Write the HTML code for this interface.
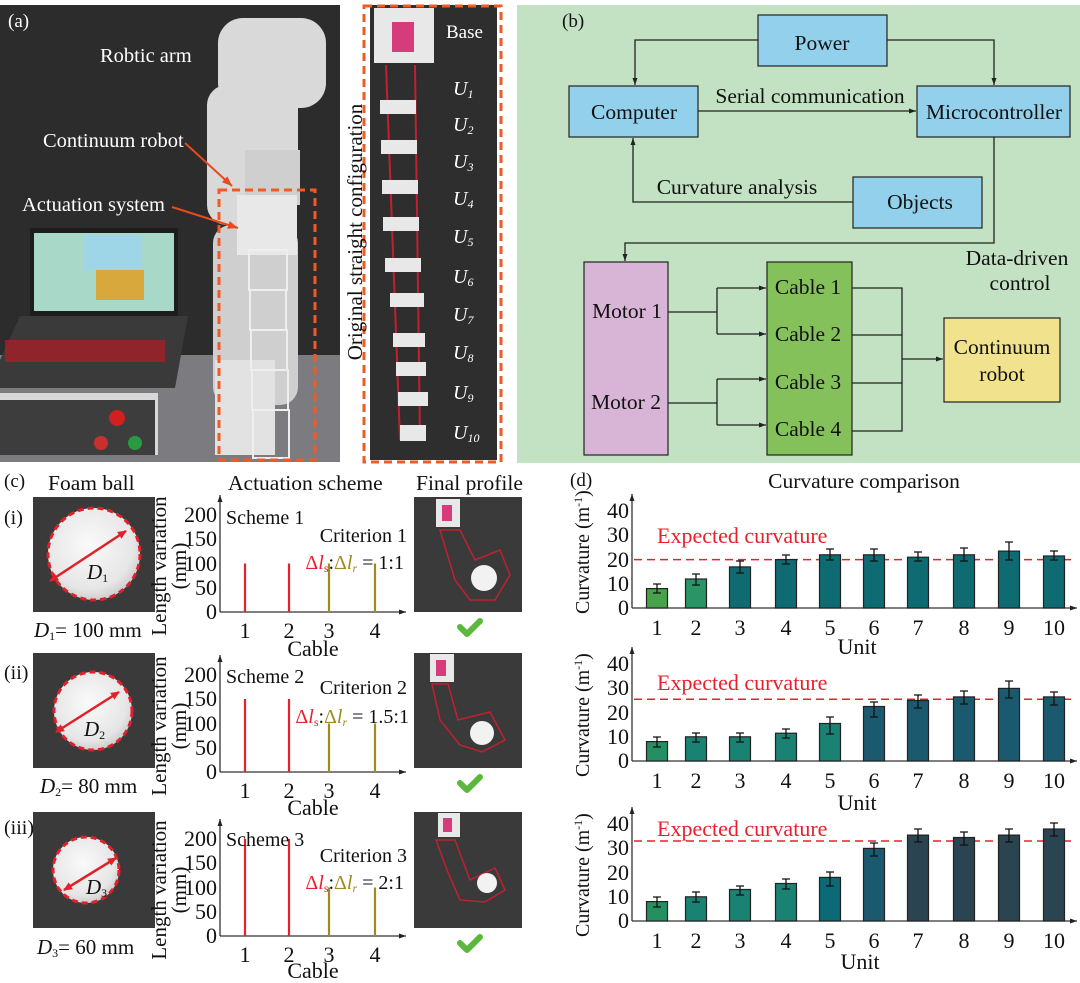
<!DOCTYPE html>
<html><head><meta charset="utf-8"><style>
html,body{margin:0;padding:0;background:#fff}
svg{display:block}
text{font-family:"Liberation Serif",serif;fill:#111}
text.w,.w text,.w tspan{fill:#fff}
</style></head><body>
<svg width="1080" height="983" viewBox="0 0 1080 983" xmlns="http://www.w3.org/2000/svg">
<defs>
<marker id="ar" markerWidth="8" markerHeight="8" refX="7" refY="4" orient="auto" markerUnits="userSpaceOnUse"><path d="M0,1.5 L7,4 L0,6.5 z" fill="#222"/></marker>
<marker id="ao" markerWidth="12" markerHeight="10" refX="10" refY="5" orient="auto" markerUnits="userSpaceOnUse"><path d="M0,1 L10,5 L0,9 z" fill="#e8491d"/></marker>
<marker id="ar2" markerWidth="10" markerHeight="10" refX="8" refY="5" orient="auto-start-reverse" markerUnits="userSpaceOnUse"><path d="M0,1 L9,5 L0,9 z" fill="#e0202a"/></marker>
<radialGradient id="ball" cx="45%" cy="40%" r="60%"><stop offset="0" stop-color="#fafafa"/><stop offset="0.8" stop-color="#e6e6e6"/><stop offset="1" stop-color="#cfcfcf"/></radialGradient>
</defs>

<!-- Panel (a) left photo -->
<rect x="0" y="5" width="340" height="457" fill="#2c2c2c"/>
<rect x="0" y="355" width="340" height="107" fill="#7c7c80"/>
<g fill="#d9d9d9">
<rect x="218" y="18" width="108" height="90" rx="25"/>
<rect x="207" y="85" width="50" height="140" rx="20"/>
<rect x="243" y="80" width="55" height="110" rx="22"/>
<rect x="245" y="150" width="55" height="55" fill="#cfcfcf"/>
<rect x="213" y="225" width="85" height="180" rx="18" fill="#cfcfcf"/>
<rect x="215" y="360" width="60" height="95" fill="#e2e2e2"/>
</g>
<rect x="237" y="195" width="60" height="60" fill="#e8e8e8"/>
<g stroke="#eee" stroke-width="2" fill="none">
<rect x="249" y="250" width="38" height="40"/><rect x="250" y="290" width="36" height="40"/><rect x="251" y="330" width="36" height="40"/><rect x="252" y="370" width="36" height="40"/><rect x="253" y="410" width="36" height="48"/>
</g>
<rect x="30" y="228" width="148" height="88" fill="#1d1d1d"/>
<rect x="34" y="233" width="140" height="78" fill="#a8d8c8"/>
<rect x="84" y="235" width="58" height="35" fill="#9ed6e8"/>
<rect x="96" y="270" width="48" height="30" fill="#d9a83c"/>
<polygon points="20,316 188,316 175,388 0,388 0,360" fill="#3a3a3a"/>
<rect x="5" y="340" width="160" height="22" fill="#a52028" opacity="0.8"/>
<rect x="0" y="393" width="158" height="62" fill="#d8d8d8"/>
<rect x="0" y="400" width="155" height="55" fill="#3d3d3d"/>
<circle cx="117" cy="418" r="8" fill="#d02020"/>
<circle cx="101" cy="443" r="7" fill="#c83030"/>
<circle cx="135" cy="443" r="7" fill="#2a9a40"/>
<rect x="219" y="190" width="96" height="270" fill="none" stroke="#f05a24" stroke-width="3" stroke-dasharray="8,5"/>
<text class="w" x="8" y="27" font-size="19">(a)</text>
<text class="w" x="100" y="62" font-size="20.5">Robtic arm</text>
<text class="w" x="43" y="147" font-size="20.5">Continuum robot</text>
<text class="w" x="22" y="211" font-size="20.5">Actuation system</text>
<line x1="185" y1="143" x2="232" y2="186" stroke="#e8491d" stroke-width="2" marker-end="url(#ao)"/>
<line x1="172" y1="207" x2="238" y2="228" stroke="#e8491d" stroke-width="2" marker-end="url(#ao)"/>

<!-- middle photo -->
<rect x="370" y="5" width="127" height="455" fill="#2e2e2e"/>
<rect x="374" y="8" width="60" height="55" fill="#e8e8e8"/>
<rect x="392" y="22" width="22" height="30" fill="#d63c7a"/>
<line x1="386" y1="65" x2="400" y2="440" stroke="#c22030" stroke-width="2"/>
<line x1="415" y1="65" x2="420" y2="440" stroke="#c22030" stroke-width="2"/>
<g fill="#e8e8e8">
<rect x="380" y="100" width="36" height="14"/><rect x="381" y="140" width="36" height="14"/><rect x="382" y="180" width="36" height="14"/><rect x="383" y="217" width="36" height="14"/><rect x="385" y="258" width="36" height="14"/><rect x="390" y="293" width="34" height="14"/><rect x="393" y="333" width="32" height="14"/><rect x="396" y="362" width="30" height="14"/><rect x="398" y="392" width="30" height="14"/><rect x="400" y="425" width="26" height="16"/>
</g>
<text class="w" x="446" y="38" font-size="19">Base</text>
<g class="w" font-size="20" font-style="italic">
<text x="453" y="95">U<tspan font-size="12" dy="3">1</tspan></text>
<text x="453" y="131">U<tspan font-size="12" dy="3">2</tspan></text>
<text x="453" y="168">U<tspan font-size="12" dy="3">3</tspan></text>
<text x="453" y="205">U<tspan font-size="12" dy="3">4</tspan></text>
<text x="453" y="243">U<tspan font-size="12" dy="3">5</tspan></text>
<text x="453" y="283">U<tspan font-size="12" dy="3">6</tspan></text>
<text x="453" y="321">U<tspan font-size="12" dy="3">7</tspan></text>
<text x="453" y="359">U<tspan font-size="12" dy="3">8</tspan></text>
<text x="453" y="399">U<tspan font-size="12" dy="3">9</tspan></text>
<text x="453" y="439">U<tspan font-size="12" dy="3">10</tspan></text>
</g>
<rect x="364" y="6" width="137" height="456" fill="none" stroke="#f05a24" stroke-width="3" stroke-dasharray="8,5"/>
<text transform="translate(362,232) rotate(-90)" text-anchor="middle" font-size="21">Original straight configuration</text>

<!-- Panel (b) -->
<rect x="517" y="5" width="563" height="458" fill="#c3e1c3"/>
<text x="562" y="27" font-size="19">(b)</text>
<g stroke="#222" stroke-width="1.3" fill="none">
<polyline points="758,40 635,40 635,85" marker-end="url(#ar)"/>
<polyline points="887,40 994,40 994,85" marker-end="url(#ar)"/>
<line x1="698" y1="111" x2="916" y2="111" marker-end="url(#ar)"/>
<polyline points="853,202 633,202 633,138" marker-end="url(#ar)"/>
<polyline points="994,137 994,243 625,243 625,261" marker-end="url(#ar)"/>
<polyline points="668,312 717,312"/>
<polyline points="717,288 717,334"/>
<line x1="717" y1="288" x2="766" y2="288" marker-end="url(#ar)"/>
<line x1="717" y1="334" x2="766" y2="334" marker-end="url(#ar)"/>
<polyline points="668,403 717,403"/>
<polyline points="717,379 717,425"/>
<line x1="717" y1="379" x2="766" y2="379" marker-end="url(#ar)"/>
<line x1="717" y1="425" x2="766" y2="425" marker-end="url(#ar)"/>
<polyline points="852,288 902,288 902,431 852,431"/>
<line x1="852" y1="335" x2="902" y2="335"/>
<line x1="852" y1="383" x2="902" y2="383"/>
<line x1="902" y1="359" x2="943" y2="359" marker-end="url(#ar)"/>
</g>
<g stroke="#222" stroke-width="1.2">
<rect x="758" y="15" width="129" height="51" fill="#92d0ec"/>
<rect x="569" y="86" width="129" height="51" fill="#92d0ec"/>
<rect x="917" y="86" width="153" height="51" fill="#92d0ec"/>
<rect x="853" y="177" width="129" height="51" fill="#92d0ec"/>
<rect x="584" y="262" width="84" height="193" fill="#d8b4d6"/>
<rect x="767" y="262" width="85" height="193" fill="#85c15a"/>
<rect x="944" y="318" width="116" height="84" fill="#f1e28e"/>
</g>
<g font-size="21.5" text-anchor="middle">
<text x="822" y="50">Power</text>
<text x="634" y="119">Computer</text>
<text x="994" y="119">Microcontroller</text>
<text x="810" y="103">Serial communication</text>
<text x="737" y="194">Curvature analysis</text>
<text x="920" y="209">Objects</text>
<text x="1017" y="265">Data-driven</text>
<text x="1020" y="290">control</text>
<text x="627" y="318">Motor 1</text>
<text x="626" y="409">Motor 2</text>
<text x="808" y="294">Cable 1</text>
<text x="808" y="341">Cable 2</text>
<text x="808" y="389">Cable 3</text>
<text x="808" y="436">Cable 4</text>
<text x="1002" y="354">Continuum</text>
<text x="1002" y="381">robot</text>
</g>

<!-- Panel (c) headers -->
<text x="4" y="487" font-size="19">(c)</text>
<text x="48" y="490" font-size="21.5">Foam ball</text>
<text x="228" y="490" font-size="21.5">Actuation scheme</text>
<text x="416" y="490" font-size="21.5">Final profile</text>
<text x="4" y="524" font-size="20">(i)</text>
<text x="4" y="679" font-size="20">(ii)</text>
<text x="4" y="834" font-size="20">(iii)</text>

<!-- foam ball photos -->
<rect x="33" y="497" width="122" height="115" fill="#3a3a3a"/>
<circle cx="94" cy="554" r="46" fill="url(#ball)" stroke="#e0202a" stroke-width="3" stroke-dasharray="6,4"/>
<line x1="50" y1="581" x2="126" y2="531" stroke="#e0202a" stroke-width="2.5" marker-start="url(#ar2)" marker-end="url(#ar2)"/>
<text x="87" y="579" font-size="21" font-style="italic">D<tspan font-size="12" dy="3" font-style="normal">1</tspan></text>
<text x="34" y="637" font-size="21"><tspan font-style="italic">D</tspan><tspan font-size="12" dy="3">1</tspan><tspan dy="-3">= 100 mm</tspan></text>

<rect x="33" y="653" width="122" height="115" fill="#3a3a3a"/>
<circle cx="93" cy="711" r="39" fill="url(#ball)" stroke="#e0202a" stroke-width="3" stroke-dasharray="6,4"/>
<line x1="56" y1="732" x2="119" y2="692" stroke="#e0202a" stroke-width="2.5" marker-start="url(#ar2)" marker-end="url(#ar2)"/>
<text x="84" y="736" font-size="21" font-style="italic">D<tspan font-size="12" dy="3" font-style="normal">2</tspan></text>
<text x="40" y="793" font-size="21"><tspan font-style="italic">D</tspan><tspan font-size="12" dy="3">2</tspan><tspan dy="-3">= 80 mm</tspan></text>

<rect x="33" y="812" width="122" height="116" fill="#3a3a3a"/>
<circle cx="86" cy="870" r="33" fill="url(#ball)" stroke="#e0202a" stroke-width="3" stroke-dasharray="6,4"/>
<line x1="64" y1="890" x2="116" y2="858" stroke="#e0202a" stroke-width="2.5" marker-start="url(#ar2)" marker-end="url(#ar2)"/>
<text x="86" y="894" font-size="21" font-style="italic">D<tspan font-size="12" dy="3" font-style="normal">3</tspan></text>
<text x="37" y="954" font-size="21"><tspan font-style="italic">D</tspan><tspan font-size="12" dy="3">3</tspan><tspan dy="-3">= 60 mm</tspan></text>

<!-- final profile photos -->
<g>
<rect x="414" y="497" width="108" height="115" fill="#3a3a3a"/>
<rect x="436" y="499" width="24" height="28" fill="#e8e8e8"/><rect x="442" y="505" width="10" height="16" fill="#d63c7a"/>
<polygon points="440,530 460,530 475,560 500,550 510,575 495,600 470,600 455,580" fill="none" stroke="#c22030" stroke-width="1.5"/>
<circle cx="484" cy="578" r="13" fill="#f2f2f2"/>
<rect x="414" y="653" width="108" height="115" fill="#3a3a3a"/>
<rect x="430" y="654" width="24" height="28" fill="#e8e8e8"/><rect x="436" y="660" width="10" height="16" fill="#d63c7a"/>
<polygon points="432,684 448,684 458,720 490,712 505,740 482,752 460,745 440,720" fill="none" stroke="#c22030" stroke-width="1.5"/>
<circle cx="482" cy="733" r="12" fill="#f2f2f2"/>
<rect x="414" y="812" width="108" height="116" fill="#3a3a3a"/>
<rect x="438" y="813" width="22" height="24" fill="#e8e8e8"/><rect x="443" y="818" width="9" height="14" fill="#d63c7a"/>
<polygon points="436,840 455,840 470,880 495,868 505,890 485,902 460,900 447,870" fill="none" stroke="#c22030" stroke-width="1.5"/>
<circle cx="487" cy="883" r="10" fill="#f2f2f2"/>
</g>
<g stroke="#5cb83c" stroke-width="6" fill="none" stroke-linecap="round" stroke-linejoin="round">
<polyline points="460,627 467,634 480,621"/>
<polyline points="460,783 467,790 480,777"/>
<polyline points="460,943 467,950 480,937"/>
</g>

<!-- Actuation charts -->
<g stroke="#333" stroke-width="1.3" fill="none">
<line x1="220" y1="612" x2="220" y2="495" marker-end="url(#ar)"/>
<line x1="220" y1="612" x2="406" y2="612" marker-end="url(#ar)"/>
<line x1="220" y1="772" x2="220" y2="655" marker-end="url(#ar)"/>
<line x1="220" y1="772" x2="406" y2="772" marker-end="url(#ar)"/>
<line x1="220" y1="936" x2="220" y2="819" marker-end="url(#ar)"/>
<line x1="220" y1="936" x2="406" y2="936" marker-end="url(#ar)"/>
</g>
<g stroke-width="2.2">
<line x1="245" y1="612" x2="245" y2="563.5" stroke="#e8202e"/>
<line x1="289" y1="612" x2="289" y2="563.5" stroke="#e8202e"/>
<line x1="329" y1="612" x2="329" y2="563.5" stroke="#a08a20"/>
<line x1="375" y1="612" x2="375" y2="563.5" stroke="#a08a20"/>
<line x1="245" y1="772" x2="245" y2="699" stroke="#e8202e"/>
<line x1="289" y1="772" x2="289" y2="699" stroke="#e8202e"/>
<line x1="329" y1="772" x2="329" y2="723.5" stroke="#a08a20"/>
<line x1="375" y1="772" x2="375" y2="723.5" stroke="#a08a20"/>
<line x1="245" y1="936" x2="245" y2="839" stroke="#e8202e"/>
<line x1="289" y1="936" x2="289" y2="839" stroke="#e8202e"/>
<line x1="329" y1="936" x2="329" y2="887.5" stroke="#a08a20"/>
<line x1="375" y1="936" x2="375" y2="887.5" stroke="#a08a20"/>
</g>
<g font-size="22" text-anchor="end">
<text x="217" y="619">0</text><text x="217" y="595">50</text><text x="217" y="571">100</text><text x="217" y="546">150</text><text x="217" y="522">200</text>
<text x="217" y="779">0</text><text x="217" y="755">50</text><text x="217" y="731">100</text><text x="217" y="706">150</text><text x="217" y="682">200</text>
<text x="217" y="943">0</text><text x="217" y="919">50</text><text x="217" y="895">100</text><text x="217" y="870">150</text><text x="217" y="846">200</text>
</g>
<g font-size="22" text-anchor="middle">
<text x="245" y="638">1</text><text x="289" y="638">2</text><text x="329" y="638">3</text><text x="375" y="638">4</text>
<text x="313" y="656">Cable</text>
<text x="245" y="798">1</text><text x="289" y="798">2</text><text x="329" y="798">3</text><text x="375" y="798">4</text>
<text x="313" y="815">Cable</text>
<text x="245" y="962">1</text><text x="289" y="962">2</text><text x="329" y="962">3</text><text x="375" y="962">4</text>
<text x="313" y="978">Cable</text>
</g>
<g font-size="21">
<text transform="translate(166,566) rotate(-90)" text-anchor="middle">Length variation</text>
<text transform="translate(186,566) rotate(-90)" text-anchor="middle">(mm)</text>
<text transform="translate(166,726) rotate(-90)" text-anchor="middle">Length variation</text>
<text transform="translate(186,726) rotate(-90)" text-anchor="middle">(mm)</text>
<text transform="translate(166,890) rotate(-90)" text-anchor="middle">Length variation</text>
<text transform="translate(186,890) rotate(-90)" text-anchor="middle">(mm)</text>
</g>
<g font-size="20">
<text x="226" y="524">Scheme 1</text>
<text x="226" y="683">Scheme 2</text>
<text x="226" y="846">Scheme 3</text>
<text x="407" y="542" text-anchor="end">Criterion 1</text>
<text x="407" y="694" text-anchor="end">Criterion 2</text>
<text x="407" y="862" text-anchor="end">Criterion 3</text>
<text x="404" y="569" text-anchor="end"><tspan style="fill:#e8202e">Δ<tspan style="fill:#e8202e" font-style="italic">l</tspan><tspan style="fill:#e8202e" font-size="12" dy="3">s</tspan></tspan><tspan dy="-3">:</tspan><tspan style="fill:#a08a20">Δ<tspan style="fill:#a08a20" font-style="italic">l<tspan style="fill:#a08a20" font-size="12" dy="3">r</tspan></tspan></tspan><tspan dy="-3"> = 1:1</tspan></text>
<text x="409" y="723" text-anchor="end"><tspan style="fill:#e8202e">Δ<tspan style="fill:#e8202e" font-style="italic">l</tspan><tspan style="fill:#e8202e" font-size="12" dy="3">s</tspan></tspan><tspan dy="-3">:</tspan><tspan style="fill:#a08a20">Δ<tspan style="fill:#a08a20" font-style="italic">l<tspan style="fill:#a08a20" font-size="12" dy="3">r</tspan></tspan></tspan><tspan dy="-3"> = 1.5:1</tspan></text>
<text x="404" y="889" text-anchor="end"><tspan style="fill:#e8202e">Δ<tspan style="fill:#e8202e" font-style="italic">l</tspan><tspan style="fill:#e8202e" font-size="12" dy="3">s</tspan></tspan><tspan dy="-3">:</tspan><tspan style="fill:#a08a20">Δ<tspan style="fill:#a08a20" font-style="italic">l<tspan style="fill:#a08a20" font-size="12" dy="3">r</tspan></tspan></tspan><tspan dy="-3"> = 2:1</tspan></text>
</g>

<!-- Panel (d) -->
<text x="570" y="486" font-size="19">(d)</text>
<text x="864" y="488" font-size="21.5" text-anchor="middle">Curvature comparison</text>
<g stroke="#333" stroke-width="1.3" fill="none">
<line x1="632" y1="608" x2="632" y2="494" marker-end="url(#ar)"/>
<line x1="632" y1="608" x2="1077" y2="608" marker-end="url(#ar)"/>
<line x1="632" y1="761" x2="632" y2="647" marker-end="url(#ar)"/>
<line x1="632" y1="761" x2="1077" y2="761" marker-end="url(#ar)"/>
<line x1="632" y1="921" x2="632" y2="807" marker-end="url(#ar)"/>
<line x1="632" y1="921" x2="1077" y2="921" marker-end="url(#ar)"/>
</g>
<g stroke="#e8202e" stroke-width="1.5" stroke-dasharray="8,5">
<line x1="634" y1="559.6" x2="1075" y2="559.6"/>
<line x1="634" y1="699.3" x2="1075" y2="699.3"/>
<line x1="634" y1="841" x2="1075" y2="841"/>
</g>
<g font-size="22">
<text x="657" y="543" style="fill:#e8202e">Expected curvature</text>
<text x="657" y="690" style="fill:#e8202e">Expected curvature</text>
<text x="657" y="836" style="fill:#e8202e">Expected curvature</text>
</g>
<g stroke="#222" stroke-width="1.2">
<rect x="646.5" y="588.6" width="21" height="19.4" fill="#47a34a"/>
<rect x="685.5" y="579" width="21" height="29" fill="#2a9466"/>
<rect x="729.5" y="566.9" width="21" height="41.1" fill="#0e6b72"/>
<rect x="775.5" y="559.6" width="21" height="48.4" fill="#0e6b72"/>
<rect x="819.5" y="554.8" width="21" height="53.2" fill="#0e6b72"/>
<rect x="863.5" y="554.8" width="21" height="53.2" fill="#0e6b72"/>
<rect x="907.5" y="557.2" width="21" height="50.8" fill="#0e6b72"/>
<rect x="953.5" y="554.8" width="21" height="53.2" fill="#0e6b72"/>
<rect x="998.5" y="551.1" width="21" height="56.9" fill="#0e6b72"/>
<rect x="1043.5" y="556" width="21" height="52" fill="#0e6b72"/>
<rect x="646.5" y="741.6" width="21" height="19.4" fill="#238f63"/>
<rect x="685.5" y="736.8" width="21" height="24.2" fill="#1a8272"/>
<rect x="729.5" y="736.8" width="21" height="24.2" fill="#1a8272"/>
<rect x="775.5" y="733.2" width="21" height="27.8" fill="#1a8272"/>
<rect x="819.5" y="723.5" width="21" height="37.5" fill="#1a8272"/>
<rect x="863.5" y="706.5" width="21" height="54.5" fill="#1b5a6e"/>
<rect x="907.5" y="700.5" width="21" height="60.5" fill="#1b5a6e"/>
<rect x="953.5" y="696.9" width="21" height="64.1" fill="#1b5a6e"/>
<rect x="998.5" y="688.4" width="21" height="72.6" fill="#1b5a6e"/>
<rect x="1043.5" y="696.9" width="21" height="64.1" fill="#1b5a6e"/>
<rect x="646.5" y="901.6" width="21" height="19.4" fill="#239060"/>
<rect x="685.5" y="896.8" width="21" height="24.2" fill="#1a8272"/>
<rect x="729.5" y="889.5" width="21" height="31.5" fill="#1a8272"/>
<rect x="775.5" y="883.5" width="21" height="37.5" fill="#1a8272"/>
<rect x="819.5" y="877.4" width="21" height="43.6" fill="#0b6a75"/>
<rect x="863.5" y="848.4" width="21" height="72.6" fill="#1b5a6e"/>
<rect x="907.5" y="835.1" width="21" height="85.9" fill="#2b4452"/>
<rect x="953.5" y="837.5" width="21" height="83.5" fill="#2b4452"/>
<rect x="998.5" y="835.1" width="21" height="85.9" fill="#2b4452"/>
<rect x="1043.5" y="829" width="21" height="92" fill="#2b4452"/>
</g>
<g stroke="#111" stroke-width="1.3">
<path d="M657,584v9M653,584h8M653,593h8 M696,574v11M692,574h8M692,585h8 M740,561v12M736,561h8M736,573h8 M786,555v9M782,555h8M782,564h8 M830,549v11M826,549h8M826,560h8 M874,549v12M870,549h8M870,561h8 M918,552v9M914,552h8M914,561h8 M964,548v13M960,548h8M960,561h8 M1009,542v18M1005,542h8M1005,560h8 M1054,551v9M1050,551h8M1050,560h8"/>
<path d="M657,737v10M653,737h8M653,747h8 M696,733v9M692,733h8M692,742h8 M740,733v9M736,733h8M736,742h8 M786,729v9M782,729h8M782,738h8 M830,717v17M826,717h8M826,734h8 M874,702v15M870,702h8M870,717h8 M918,695v13M914,695h8M914,708h8 M964,691v13M960,691h8M960,704h8 M1009,681v17M1005,681h8M1005,698h8 M1054,692v13M1050,692h8M1050,705h8"/>
<path d="M657,897v10M653,897h8M653,907h8 M696,892v10M692,892h8M692,902h8 M740,886v9M736,886h8M736,895h8 M786,879v10M782,879h8M782,889h8 M830,872v14M826,872h8M826,886h8 M874,843v13M870,843h8M870,856h8 M918,829v13M914,829h8M914,842h8 M964,832v13M960,832h8M960,845h8 M1009,829v13M1005,829h8M1005,842h8 M1054,823v13M1050,823h8M1050,836h8"/>
</g>
<g font-size="22" text-anchor="end">
<text x="629" y="615">0</text><text x="629" y="591">10</text><text x="629" y="567">20</text><text x="629" y="542">30</text><text x="629" y="518">40</text>
<text x="629" y="768">0</text><text x="629" y="744">10</text><text x="629" y="720">20</text><text x="629" y="695">30</text><text x="629" y="671">40</text>
<text x="629" y="928">0</text><text x="629" y="904">10</text><text x="629" y="880">20</text><text x="629" y="855">30</text><text x="629" y="831">40</text>
</g>
<g font-size="22" text-anchor="middle">
<text x="657" y="635">1</text><text x="696" y="635">2</text><text x="740" y="635">3</text><text x="786" y="635">4</text><text x="830" y="635">5</text><text x="874" y="635">6</text><text x="918" y="635">7</text><text x="964" y="635">8</text><text x="1009" y="635">9</text><text x="1054" y="635">10</text>
<text x="857" y="654">Unit</text>
<text x="657" y="788">1</text><text x="696" y="788">2</text><text x="740" y="788">3</text><text x="786" y="788">4</text><text x="830" y="788">5</text><text x="874" y="788">6</text><text x="918" y="788">7</text><text x="964" y="788">8</text><text x="1009" y="788">9</text><text x="1054" y="788">10</text>
<text x="857" y="810">Unit</text>
<text x="657" y="948">1</text><text x="696" y="948">2</text><text x="740" y="948">3</text><text x="786" y="948">4</text><text x="830" y="948">5</text><text x="874" y="948">6</text><text x="918" y="948">7</text><text x="964" y="948">8</text><text x="1009" y="948">9</text><text x="1054" y="948">10</text>
<text x="860" y="969">Unit</text>
</g>
<g font-size="20">
<text transform="translate(589,614) rotate(-90)">Curvature (m<tspan font-size="12" dy="-7">-1</tspan><tspan dy="7">)</tspan></text>
<text transform="translate(589,777) rotate(-90)">Curvature (m<tspan font-size="12" dy="-7">-1</tspan><tspan dy="7">)</tspan></text>
<text transform="translate(589,937) rotate(-90)">Curvature (m<tspan font-size="12" dy="-7">-1</tspan><tspan dy="7">)</tspan></text>
</g>
</svg>
</body></html>
